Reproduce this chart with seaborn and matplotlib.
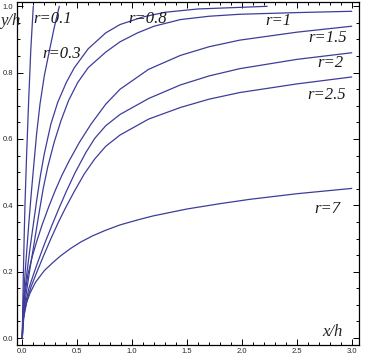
import matplotlib
matplotlib.use('Agg')
import matplotlib.pyplot as plt
from matplotlib.ticker import MultipleLocator
import seaborn as sns
import pandas as pd

sns.set_style('ticks')
plt.rcParams['font.family'] = ['Liberation Sans', 'DejaVu Sans']

LINE = '#3d3d99'

# curves: (x/h, y/h) for each r
r_values = ['0.1', '0.3', '0.8', '1', '1.5', '2', '2.5', '7']

x_r01 = [0, 0.002, 0.005, 0.01, 0.018, 0.025, 0.04, 0.058, 0.077, 0.10]
y_r01 = [0, 0.05, 0.11, 0.20, 0.32, 0.41, 0.56, 0.717, 0.867, 1.0]

x_r03 = [0, 0.003, 0.01, 0.02, 0.034, 0.058, 0.08, 0.10, 0.13, 0.161, 0.20, 0.246, 0.29, 0.337]
y_r03 = [0, 0.05, 0.11, 0.17, 0.235, 0.34, 0.43, 0.505, 0.615, 0.705, 0.79, 0.865, 0.935, 1.0]

x_r08 = [0, 0.003, 0.01, 0.025, 0.045, 0.066, 0.095, 0.131, 0.165, 0.20, 0.26, 0.322,
         0.40, 0.474, 0.60, 0.76, 0.89, 1.1, 1.3, 1.6, 2.0, 2.23]
y_r08 = [0, 0.04, 0.09, 0.15, 0.205, 0.26, 0.33, 0.415, 0.49, 0.555, 0.645, 0.71,
         0.77, 0.815, 0.872, 0.92, 0.945, 0.968, 0.982, 0.992, 0.997, 1.0]

x_r1 = [0, 0.003, 0.01, 0.025, 0.045, 0.07, 0.10, 0.149, 0.19, 0.231, 0.29, 0.352,
        0.42, 0.504, 0.60, 0.76, 0.89, 1.05, 1.2, 1.44, 1.7, 1.98, 2.5, 3.0]
y_r1 = [0, 0.03, 0.065, 0.11, 0.155, 0.21, 0.27, 0.37, 0.45, 0.515, 0.59, 0.655,
        0.715, 0.77, 0.815, 0.862, 0.893, 0.92, 0.94, 0.96, 0.97, 0.976, 0.981, 0.985]

x_r15 = [0, 0.003, 0.01, 0.025, 0.05, 0.09, 0.13, 0.179, 0.24, 0.30, 0.36, 0.428,
         0.52, 0.626, 0.76, 0.89, 1.15, 1.44, 1.7, 1.98, 2.5, 3.0]
y_r15 = [0, 0.035, 0.08, 0.135, 0.19, 0.245, 0.29, 0.34, 0.395, 0.445, 0.49, 0.535,
         0.59, 0.645, 0.705, 0.75, 0.81, 0.852, 0.878, 0.898, 0.922, 0.94]

x_r2 = [0, 0.003, 0.01, 0.03, 0.06, 0.10, 0.14, 0.20, 0.27, 0.33, 0.398, 0.48,
        0.58, 0.66, 0.76, 0.89, 1.15, 1.44, 1.7, 1.98, 2.5, 3.0]
y_r2 = [0, 0.03, 0.06, 0.105, 0.15, 0.19, 0.228, 0.282, 0.34, 0.388, 0.44, 0.498,
        0.56, 0.602, 0.64, 0.674, 0.722, 0.763, 0.79, 0.812, 0.84, 0.86]

x_r25 = [0, 0.004, 0.015, 0.04, 0.08, 0.14, 0.20, 0.261, 0.33, 0.39, 0.47, 0.565,
         0.66, 0.76, 0.89, 1.15, 1.44, 1.7, 1.98, 2.5, 3.0]
y_r25 = [0, 0.03, 0.065, 0.11, 0.155, 0.205, 0.253, 0.30, 0.35, 0.39, 0.44, 0.495,
         0.54, 0.578, 0.612, 0.66, 0.695, 0.72, 0.74, 0.766, 0.787]

x_r7 = [0, 0.003, 0.01, 0.022, 0.04, 0.07, 0.12, 0.20, 0.28, 0.35, 0.44, 0.53,
        0.64, 0.76, 0.89, 1.05, 1.19, 1.5, 1.8, 2.07, 2.5, 3.0]
y_r7 = [0, 0.03, 0.06, 0.085, 0.108, 0.135, 0.168, 0.203, 0.228, 0.248, 0.27, 0.289,
        0.308, 0.325, 0.341, 0.356, 0.368, 0.389, 0.405, 0.418, 0.435, 0.451]

curves = [(x_r01, y_r01), (x_r03, y_r03), (x_r08, y_r08), (x_r1, y_r1),
          (x_r15, y_r15), (x_r2, y_r2), (x_r25, y_r25), (x_r7, y_r7)]

# label anchor points (centre of each "r=..." text)
label_x = [0.28, 0.357, 1.145, 2.33, 2.785, 2.807, 2.775, 2.78]
label_y = [0.961, 0.855, 0.961, 0.956, 0.905, 0.83, 0.732, 0.389]

rows = []
for r, (xs, ys) in zip(r_values, curves):
    for xv, yv in zip(xs, ys):
        rows.append({'r': r, 'x': xv, 'y': yv})
df = pd.DataFrame(rows)

fig = plt.figure(figsize=(3.73, 3.62), dpi=100)
ax = fig.add_axes([0.0448, 0.047, 0.9185, 0.9475])

sns.lineplot(data=df, x='x', y='y', units='r', estimator=None, sort=False,
             color=LINE, linewidth=0.9, legend=False, ax=ax)

for r, lx, ly in zip(r_values, label_x, label_y):
    ax.text(lx, ly, f'r={r}', ha='center', va='center', fontsize=12,
            style='italic', family='Liberation Serif', color='#1a1a1a')

ax.text(-0.103, 0.955, 'y/h', ha='center', va='center', fontsize=12,
        style='italic', family='Liberation Serif', clip_on=False)
ax.text(2.825, 0.017, 'x/h', ha='center', va='center', fontsize=12,
        style='italic', family='Liberation Serif')

ax.set_xlim(-0.051, 3.069)
ax.set_ylim(-0.021, 1.013)
ax.xaxis.set_major_locator(MultipleLocator(0.5))
ax.xaxis.set_minor_locator(MultipleLocator(0.1))
ax.yaxis.set_major_locator(MultipleLocator(0.2))
ax.yaxis.set_minor_locator(MultipleLocator(0.05))
ax.xaxis.set_major_formatter(plt.FormatStrFormatter('%.1f'))
ax.yaxis.set_major_formatter(plt.FormatStrFormatter('%.1f'))
ax.set_xlabel('')
ax.set_ylabel('')

ax.tick_params(which='both', direction='in', top=True, right=True, width=0.7, color='black')
ax.tick_params(which='major', length=4, labelsize=5.5, pad=2.5)
ax.tick_params(which='minor', length=2)
for spine in ax.spines.values():
    spine.set_visible(True)
    spine.set_linewidth(0.9)
    spine.set_color('black')

plt.savefig('out.png', dpi=100)
plt.close()
